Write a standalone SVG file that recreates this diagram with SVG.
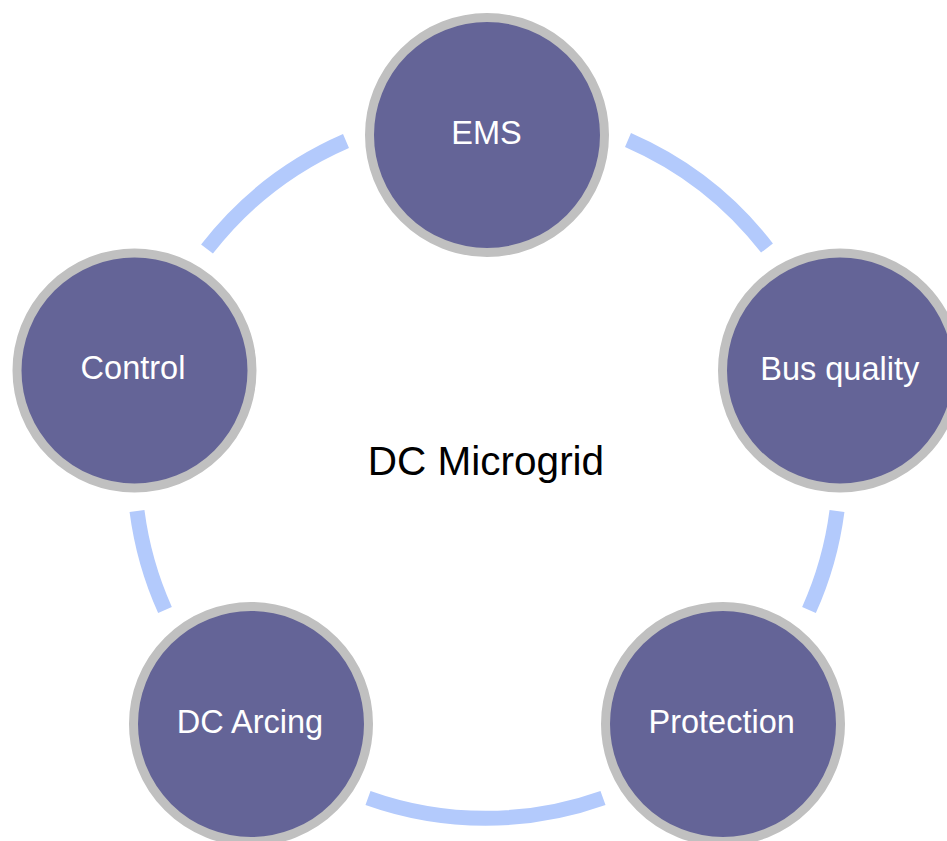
<svg xmlns="http://www.w3.org/2000/svg" width="947" height="841" viewBox="0 0 947 841">
<style>
.node{fill:#646497;stroke:#c0c0c0;stroke-width:9}
.lbl{font-family:"Liberation Sans",Arial,sans-serif;font-size:32.5px;fill:#ffffff;text-anchor:middle}
.arc{fill:none;stroke:#b3cafc;stroke-width:15;stroke-linecap:butt}
.title{font-family:"Liberation Sans",Arial,sans-serif;font-size:40.5px;fill:#000000;text-anchor:middle}
</style>
<rect width="947" height="841" fill="#ffffff"/>
<g id="connectors">
<path class="arc" d="M628,140 A355,355 0 0 1 767,248"/>
<path class="arc" d="M837,511 A352,352 0 0 1 809,610"/>
<path class="arc" d="M603,798 A350,350 0 0 1 368,798"/>
<path class="arc" d="M165,610 A352,352 0 0 1 137,511"/>
<path class="arc" d="M207,249 A355,355 0 0 1 346,141"/>
</g>
<g id="node-ems">
<circle class="node" cx="487" cy="135" r="117.5"/>
<text class="lbl" x="486.5" y="144">EMS</text>
</g>
<g id="node-bus-quality">
<circle class="node" cx="840" cy="370.5" r="117.5"/>
<text class="lbl" x="839.7" y="379.5">Bus quality</text>
</g>
<g id="node-protection">
<circle class="node" cx="723" cy="724" r="117.5"/>
<text class="lbl" x="721.7" y="733">Protection</text>
</g>
<g id="node-dc-arcing">
<circle class="node" cx="251" cy="724" r="117.5"/>
<text class="lbl" x="250" y="733.3">DC Arcing</text>
</g>
<g id="node-control">
<circle class="node" cx="134.5" cy="370.5" r="117.5"/>
<text class="lbl" x="133" y="379.3">Control</text>
</g>
<g id="center-label">
<text class="title" x="486" y="475">DC Microgrid</text>
</g>
</svg>
